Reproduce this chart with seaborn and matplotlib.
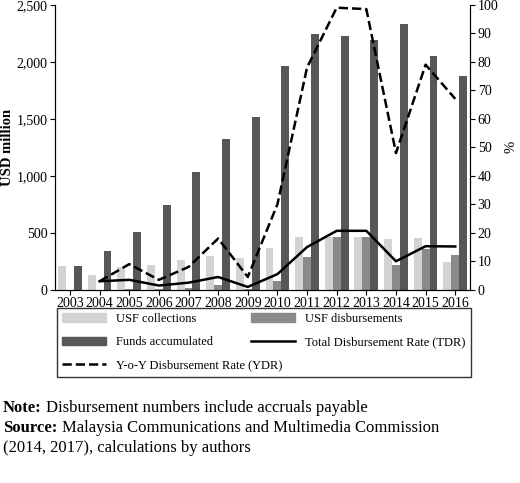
import numpy as np
import pandas as pd
import seaborn as sns
import matplotlib.pyplot as plt
from matplotlib.lines import Line2D
from matplotlib.patches import Patch

years = [str(y) for y in range(2003, 2017)]
collections = [210, 130, 200, 215, 260, 300, 280, 370, 460, 465, 460, 450, 455, 245]
disbursements = [0, 0, 10, 5, 15, 45, 5, 80, 290, 460, 460, 220, 355, 305]
funds = [210, 340, 510, 740, 1035, 1325, 1520, 1965, 2240, 2225, 2190, 2330, 2055, 1875]
tdr = [np.nan, 3, 3.5, 1.5, 2.5, 4.5, 1, 5.5, 15, 20.7, 20.7, 10, 15.3, 15.2]
ydr = [np.nan, 3, 9, 3.5, 8, 18, 4.5, 30, 78, 99, 98.5, 48, 79, 67]

names = ["USF collections", "USF disbursements", "Funds accumulated"]
colors = ["#d3d3d3", "#8a8a8a", "#575757"]
bars = pd.DataFrame({"Year": years, names[0]: collections, names[1]: disbursements, names[2]: funds})
bars = bars.melt(id_vars="Year", var_name="Series", value_name="Value")

plt.rcParams['font.family'] = ['Liberation Serif', 'DejaVu Serif']
fig = plt.figure(figsize=(5.2, 4.83), dpi=100)
ax = fig.add_axes([0.106, 0.40, 0.798, 0.59])
sns.barplot(data=bars, x="Year", y="Value", hue="Series", palette=colors, ax=ax,
            width=0.8, legend=False, saturation=1)
ax.set_ylim(0, 2500)
ax.set_yticks(range(0, 2501, 500))
ax.set_yticklabels([f"{v:,}" for v in range(0, 2501, 500)], fontsize=10)
ax.set_xlabel("")
ax.set_ylabel("USD million", fontsize=10.5, fontweight="bold", labelpad=2)
ax.tick_params(axis="x", labelsize=10, pad=2)
ax.tick_params(axis="y", pad=2)
ax.spines["top"].set_visible(False)

ax2 = ax.twinx()
x = np.arange(len(years))
sns.lineplot(x=x, y=tdr, ax=ax2, color="black", lw=1.8)
sns.lineplot(x=x, y=ydr, ax=ax2, color="black", lw=1.8, linestyle="--")
ax2.set_ylim(0, 100)
ax2.set_yticks(range(0, 101, 10))
ax2.tick_params(axis="y", labelsize=10, pad=2)
ax2.set_ylabel("%", fontsize=10.5)
ax2.spines["top"].set_visible(False)
ax.set_xlim(-0.5, 13.5)

handles = [Patch(color=colors[0]), Patch(color=colors[1]), Patch(color=colors[2]),
           Line2D([], [], color="black", lw=1.8), Line2D([], [], color="black", lw=1.8, ls="--")]
labels = ["USF collections", "USF disbursements", "Funds accumulated",
          "Total Disbursement Rate (TDR)", "Y-o-Y Disbursement Rate (YDR)"]
order = [0, 2, 4, 1, 3]
fig.legend([handles[i] for i in order], [labels[i] for i in order], ncol=2,
           loc="upper left", bbox_to_anchor=(0.11, 0.197, 0.795, 0.165), mode="expand",
           fontsize=9, frameon=True, fancybox=False, edgecolor="black",
           handlelength=3.5, borderaxespad=0, labelspacing=0.9)

fig.canvas.draw()
r = fig.canvas.get_renderer()
def line(y, bold, rest):
    t = fig.text(0.006, y, bold, fontsize=12, fontweight="bold", va="baseline")
    if rest:
        w = t.get_window_extent(r).width / fig.bbox.width
        fig.text(0.006 + w + 0.008, y, rest, fontsize=12, va="baseline")

line(0.147, "Note:", "Disbursement numbers include accruals payable")
line(0.106, "Source:", "Malaysia Communications and Multimedia Commission")
fig.text(0.006, 0.064, "(2014, 2017), calculations by authors", fontsize=12, va="baseline")

fig.savefig("out.png", dpi=100)
